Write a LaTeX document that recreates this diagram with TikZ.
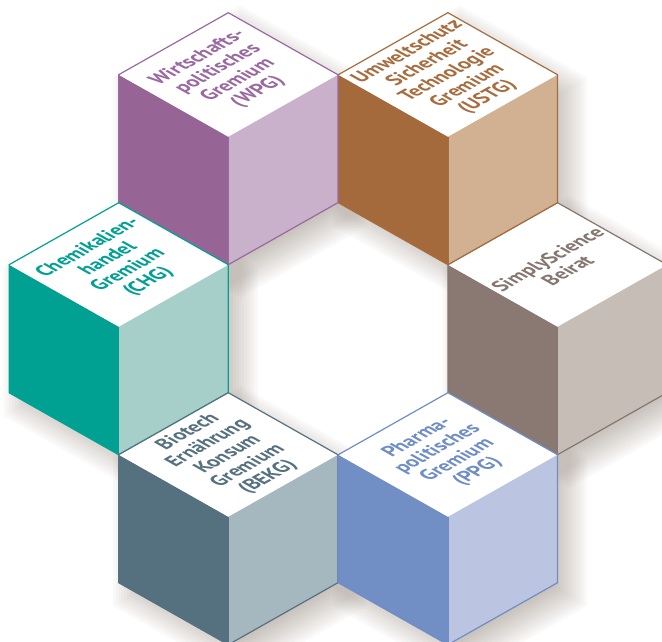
\documentclass[tikz,border=0pt]{standalone}
\usepackage{fontspec}
\setmainfont{PT Sans}
\definecolor{wpgD}{HTML}{976595}
\definecolor{wpgL}{HTML}{C9B1CC}
\definecolor{wpgT}{HTML}{9A69A0}
\definecolor{ustD}{HTML}{A56A3C}
\definecolor{ustL}{HTML}{D2B092}
\definecolor{ustT}{HTML}{A86D3F}
\definecolor{chgD}{HTML}{00A093}
\definecolor{chgL}{HTML}{A7CFCA}
\definecolor{chgT}{HTML}{00A093}
\definecolor{ssD}{HTML}{8A7972}
\definecolor{ssL}{HTML}{C6BDB7}
\definecolor{ssT}{HTML}{857670}
\definecolor{bekD}{HTML}{55707F}
\definecolor{bekL}{HTML}{A5B7BF}
\definecolor{bekT}{HTML}{56717F}
\definecolor{ppgD}{HTML}{718FC4}
\definecolor{ppgL}{HTML}{BBC5E2}
\definecolor{ppgT}{HTML}{6F8DC6}
\definecolor{shadowc}{RGB}{95,75,60}
\def\cubW{109.6}
\def\cubH{62}
\def\cubV{128}
\newcommand\cubeshadow[2]{%
  \foreach \k in {0.86,0.885,...,1.17}{%
    \begin{scope}[shift={(#1+12,#2+\cubH+\cubV/2+13)},scale=\k]
      \fill[shadowc,opacity=0.032] (0,-126) -- (109.6,-64) -- (109.6,64) -- (0,126) -- (-109.6,64) -- (-109.6,-64) -- cycle;
    \end{scope}}}
\newcommand\cubeshape[3]{%
  \fill[#3L] (#1,#2+2*\cubH) -- (#1+\cubW,#2+\cubH) -- (#1+\cubW,#2+\cubH+\cubV) -- (#1,#2+2*\cubH+\cubV) -- cycle;
  \fill[#3D] (#1,#2+2*\cubH) -- (#1-\cubW,#2+\cubH) -- (#1-\cubW,#2+\cubH+\cubV) -- (#1,#2+2*\cubH+\cubV) -- cycle;
  \fill[white] (#1,#2) -- (#1+\cubW,#2+\cubH) -- (#1,#2+2*\cubH) -- (#1-\cubW,#2+\cubH) -- cycle;
  \draw[#3T,edge] (#1,#2) -- (#1+\cubW,#2+\cubH) -- (#1+\cubW,#2+\cubH+\cubV) -- (#1,#2+2*\cubH+\cubV) -- (#1-\cubW,#2+\cubH+\cubV) -- (#1-\cubW,#2+\cubH) -- cycle;
  \draw[#3T,inneredge] (#1,#2+2*\cubH) -- (#1,#2+2*\cubH+\cubV);}
\begin{document}
\begin{tikzpicture}[x=1pt,y=-1pt,
  edge/.style={line width=1.2,line join=miter},
  inneredge/.style={line width=0.6},
  cubetext/.style={align=center,transform shape,inner sep=0pt,
    cm={0.870,0.493,-0.94,0.532,(0,0)},
    font=\bfseries\fontsize{19.5}{21.2}\selectfont}]
\useasboundingbox (0,0) rectangle (662,641);
\clip (0,0) rectangle (662,641);
% shadows
\cubeshadow{228.3}{12.7}
\cubeshadow{447.9}{12.7}
\cubeshadow{118.7}{202.7}
\cubeshadow{557.5}{202.7}
\cubeshadow{228.3}{392.7}
\cubeshadow{447.9}{392.7}
% cubes
\cubeshape{557.5}{202.7}{ss}
\cubeshape{447.9}{12.7}{ust}
\cubeshape{228.3}{12.7}{wpg}
\cubeshape{118.7}{202.7}{chg}
\cubeshape{228.3}{392.7}{bek}
\cubeshape{447.9}{392.7}{ppg}
% labels
\begin{scope}[shift={(228.3,74.7)}]
  \node[cubetext,text=wpgT] (wpg) at (0,0) {Wirtschafts-\\politisches\\Gremium\\(WPG)};
\end{scope}
\begin{scope}[shift={(447.9,74.7)}]
  \node[cubetext,text=ustT] (ustg) at (0,0) {Umweltschutz\\Sicherheit\\Technologie\\Gremium\\(USTG)};
\end{scope}
\begin{scope}[shift={(118.7,264.7)}]
  \node[cubetext,text=chgT] (chg) at (0,0) {Chemikalien-\\handel\\Gremium\\(CHG)};
\end{scope}
\begin{scope}[shift={(557.5,264.7)}]
  \node[cubetext,text=ssT] (ss) at (0,0) {SimplyScience\\Beirat};
\end{scope}
\begin{scope}[shift={(228.3,454.7)}]
  \node[cubetext,text=bekT] (bekg) at (0,0) {Biotech\\Ernährung\\Konsum\\Gremium\\(BEKG)};
\end{scope}
\begin{scope}[shift={(447.9,454.7)}]
  \node[cubetext,text=ppgT] (ppg) at (0,0) {Pharma-\\politisches\\Gremium\\(PPG)};
\end{scope}
\end{tikzpicture}
\end{document}
